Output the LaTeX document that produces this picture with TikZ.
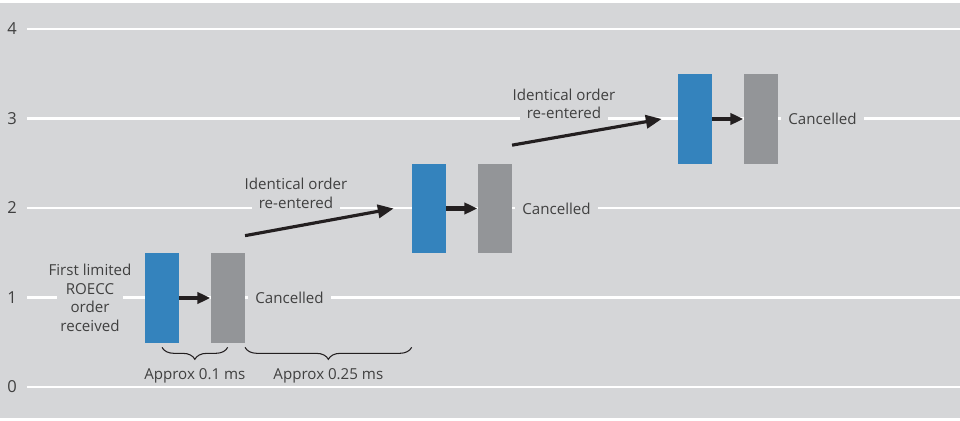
\documentclass[tikz,border=0pt]{standalone}
\usepackage{fontspec}
\setmainfont{Open Sans}
\usepackage{xcolor}
\usetikzlibrary{positioning,arrows.meta,decorations.pathreplacing}
\definecolor{PanelGrey}{RGB}{213,214,216}
\definecolor{OrderBlue}{RGB}{52,131,189}
\definecolor{CancelGrey}{RGB}{147,149,152}
\definecolor{TextGrey}{RGB}{64,64,64}
\definecolor{ArrowBlack}{RGB}{35,31,32}

\begin{document}
\begin{tikzpicture}[
        x=0.02cm, y=-0.02cm,
        node distance=0.62cm,
        order/.style={rectangle, fill=OrderBlue, minimum width=0.68cm,
                      minimum height=1.8cm, inner sep=0pt},
        cancel/.style={order, fill=CancelGrey},
        lbl/.style={font=\fontsize{8.6}{10.6}\selectfont, text=TextGrey, align=center},
        ticklbl/.style={font=\fontsize{9.4}{11}\selectfont, text=TextGrey},
        gapfill/.style={fill=PanelGrey},
        gridline/.style={white, line width=1.3pt},
        hop/.style={-{Triangle[length=7.4pt,width=6.4pt]}, line width=2.8pt, ArrowBlack},
        jump/.style={-{Triangle[length=9pt,width=7.5pt]}, line width=1.8pt, ArrowBlack},
        span/.style={decorate, decoration={brace, mirror, amplitude=0.24cm},
                     line width=0.6pt, ArrowBlack}
    ]
        \fill[PanelGrey] (0,3) rectangle (960,418);
        \useasboundingbox (0,0) rectangle (960,421);

        % value grid
        \foreach \v in {0,...,4} {
            \draw[gridline] (27,{387-89.5*\v}) -- (960,{387-89.5*\v});
            \node[ticklbl] (tick\v) at (12,{387-89.5*\v}) {\v};
        }

        % first order
        \node[order] (b1) at (162,298) {};
        \node[cancel, right=of b1] (g1) {};
        \node[lbl, gapfill, right=0.06cm of g1, inner xsep=0.14cm] (c1) {Cancelled};
        \node[lbl, gapfill, inner xsep=-0.17cm] (first) at (90,298)
            {First limited\\ROECC\\order\\received};

        % second order
        \node[order] (b2) at (429,208.5) {};
        \node[cancel, right=of b2] (g2) {};
        \node[lbl, gapfill, right=0.06cm of g2, inner xsep=0.14cm] (c2) {Cancelled};
        \node[lbl, gapfill, inner xsep=-0.15cm] (re1) at (296,193.5)
            {Identical order\\re-entered};

        % third order
        \node[order] (b3) at (695,119) {};
        \node[cancel, right=of b3] (g3) {};
        \node[lbl, gapfill, right=0.06cm of g3, inner xsep=0.14cm] (c3) {Cancelled};
        \node[lbl, gapfill, inner xsep=-0.15cm] (re2) at (564,104)
            {Identical order\\re-entered};

        \draw[hop] (b1) -- (g1);
        \draw[hop] (b2) -- (g2);
        \draw[hop] (b3) -- (g3);

        \coordinate (s1) at ([yshift=0.34cm]g1.north east);
        \coordinate (e1) at ([xshift=-0.36cm]b2.west);
        \coordinate (s2) at ([yshift=0.36cm]g2.north east);
        \coordinate (e2) at ([xshift=-0.32cm]b3.west);
        \draw[jump] (s1) -- (e1);
        \draw[jump] (s2) -- (e2);

        % timing braces
        \coordinate (bend) at (b2.west |- g1.south);
        \draw[span] ([yshift=-0.08cm]b1.south) -- ([yshift=-0.08cm]g1.south)
            node[lbl, midway, below=0.3cm] (t1) {Approx 0.1 ms};
        \draw[span] ([yshift=-0.08cm]g1.south east) -- ([yshift=-0.08cm]bend)
            node[lbl, midway, below=0.3cm] (t2) {Approx 0.25 ms};
    \end{tikzpicture}
\end{document}
